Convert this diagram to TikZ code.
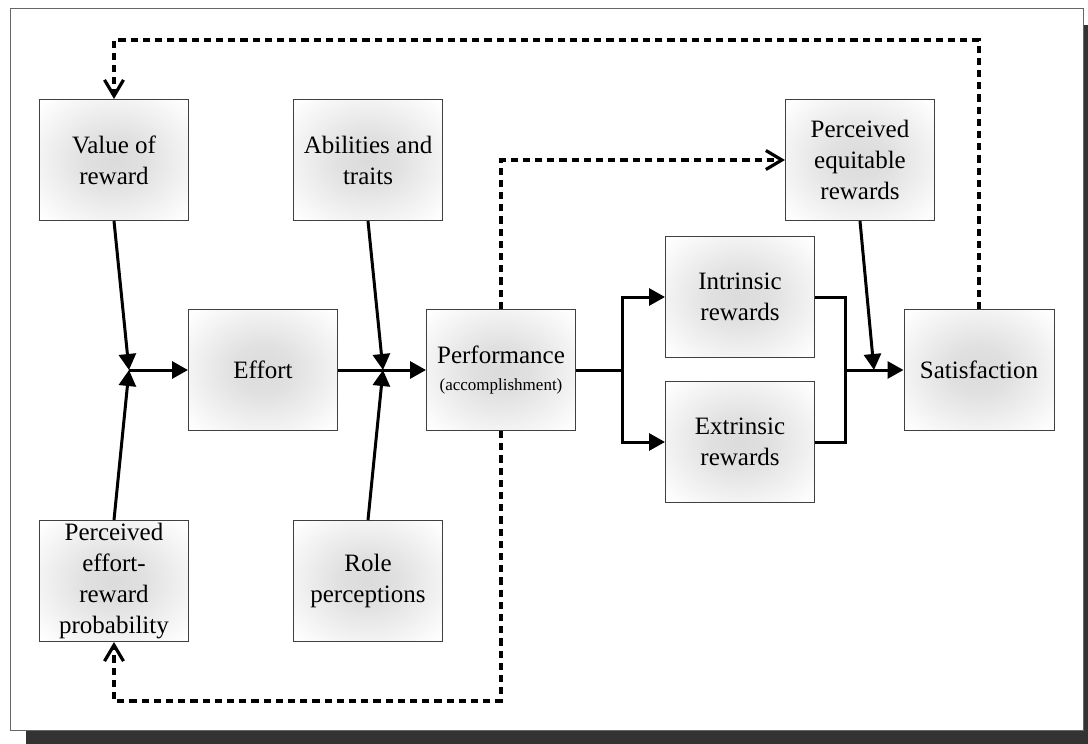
\documentclass[tikz,border=0pt]{standalone}
\usepackage{fontspec}
\setmainfont{Liberation Serif}
\usetikzlibrary{arrows.meta}

\pgfdeclareradialshading{boxglow}{\pgfpoint{0bp}{0bp}}{%
  color(0bp)=(black!14);color(10bp)=(black!12);color(22bp)=(black!6);
  color(34bp)=(white);color(50bp)=(white)}

\begin{document}
\begin{tikzpicture}[x=0.5pt,y=-0.5pt,
  box/.style={draw=black!75,line width=0.5pt,shading=boxglow,
    minimum width=74.5pt,minimum height=60.5pt,inner sep=0pt,align=center,
    font=\fontsize{12.5}{15.5}\selectfont},
  flow/.style={line width=1.5pt},
  arr/.style={flow,-{Triangle[length=8pt,width=8.5pt]}},
  fb/.style={line width=1.6pt,dash pattern=on 3.6pt off 2.5pt,
    -{Straight Barb[length=8pt,width=9.5pt]}}]

\useasboundingbox (0,0) rectangle (1088,744);
%\draw[very thin,color=lightgray,step=50] (0,0) grid (1088,744);

% frame with shadow
\fill[black!80] (26,25) rectangle (1088,744);
\draw[black!60,fill=white,line width=0.5pt] (10,8) rectangle (1083,730);

\node[box] (val)   at (114,160) {Value of\\reward};
\node[box] (abil)  at (368,160) {Abilities and\\traits};
\node[box] (equi)  at (860,160) {Perceived\\equitable\\rewards};
\node[box] (effort) at (263,370) {Effort};
\node[box] (perf)  at (501,370) {Performance\\[-2pt]{\fontsize{8.5}{10}\selectfont (accomplishment)}};
\node[box] (intr)  at (740,297) {Intrinsic\\rewards};
\node[box] (extr)  at (740,442) {Extrinsic\\rewards};
\node[box,minimum width=75pt] (sat) at (979,370) {Satisfaction};
\node[box] (prob)  at (114,581) {Perceived\\effort-\\reward\\probability};
\node[box] (role)  at (368,581) {Role\\perceptions};

\coordinate (j1) at (129,370);
\coordinate (j2) at (383,370);
\coordinate (j3) at (874,370);
\coordinate (b1) at (622,370);
\coordinate (m1) at (845,370);
\coordinate (topy) at (0,40);
\coordinate (boty) at (0,701);

% solid paths
\draw[arr] (val.south) -- (j1);
\draw[arr] (prob.north) -- (j1);
\draw[arr] (j1) -- (effort.west);
\draw[arr] (abil.south) -- (j2);
\draw[arr] (role.north) -- (j2);
\draw[arr] (effort.east) -- (perf.west);
\draw[flow] (perf.east) -- (b1);
\draw[arr] (b1) |- (intr.west);
\draw[arr] (b1) |- (extr.west);
\draw[flow] (intr.east) -| (m1);
\draw[flow] (extr.east) -| (m1);
\draw[arr] (m1) -- (sat.west);
\draw[arr] (equi.south) -- (j3);

% feedback loops
\draw[fb] (sat.north) -- (sat.north |- topy) -| (val.north);
\draw[fb] (perf.north) |- (equi.west);
\draw[fb] (perf.south) -- (perf.south |- boty) -| (prob.south);
\end{tikzpicture}
\end{document}
